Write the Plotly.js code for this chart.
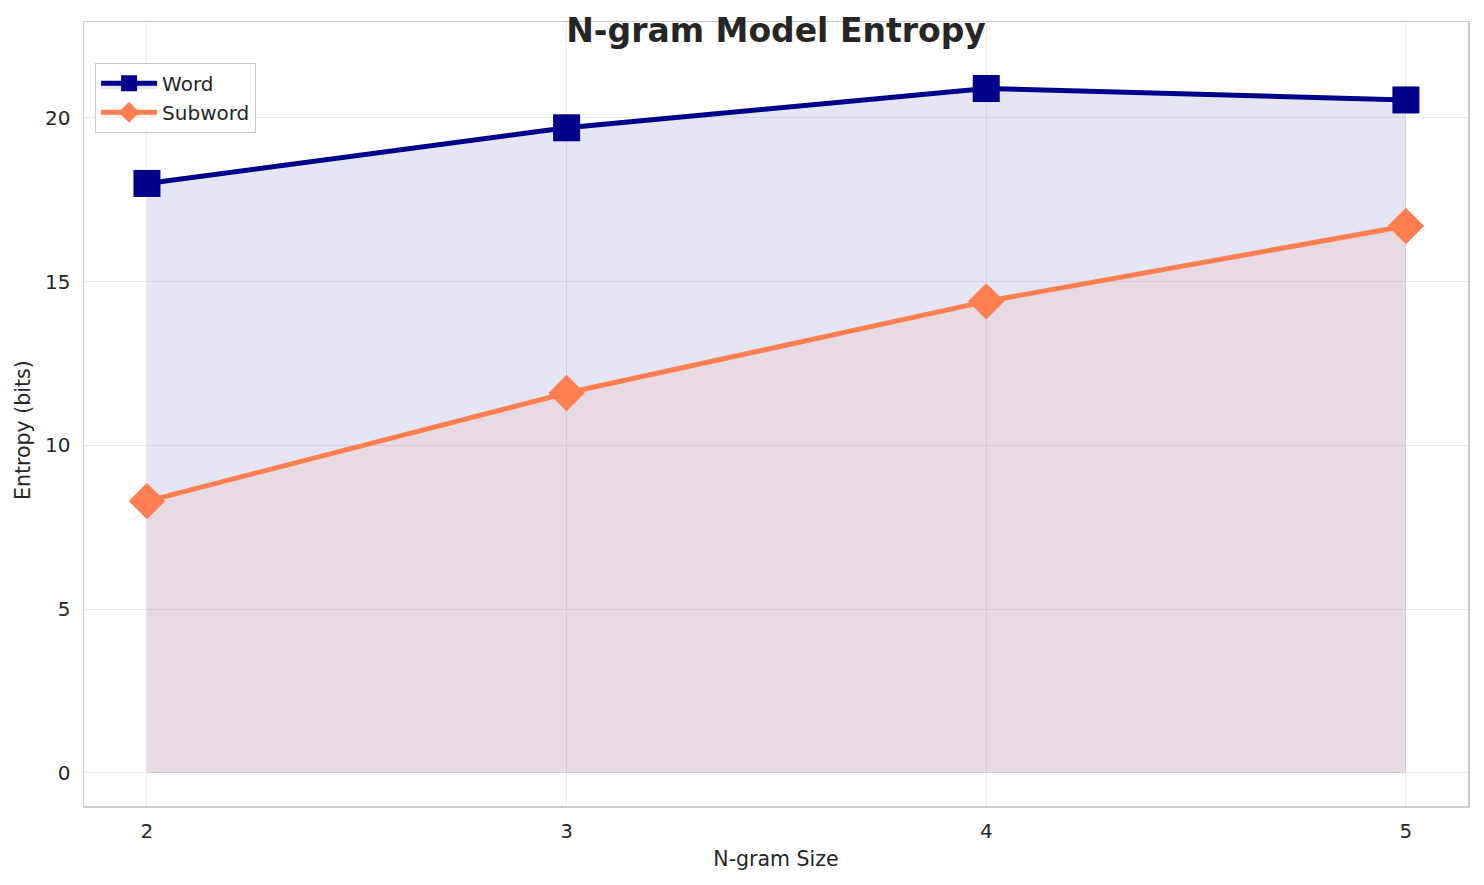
<!DOCTYPE html>
<html>
<head>
<meta charset="utf-8">
<script src="https://cdn.plot.ly/plotly-3.0.1.min.js"></script>
<style>html,body{margin:0;padding:0;background:#fff;}#chart{width:1484px;height:885px;}</style>
</head>
<body>
<div id="chart"></div>
<script>
const ngramSizes = [2, 3, 4, 5];
const wordEntropy = [18.0, 19.7, 20.9, 20.55];
const subwordEntropy = [8.3, 11.6, 14.4, 16.7];
const seriesNames = ['Word', 'Subword'];
const tickVals = [2, 3, 4, 5];

const font = 'DejaVu Sans, Liberation Sans, sans-serif';

const traces = [
  {
    x: ngramSizes, y: wordEntropy, name: seriesNames[0],
    type: 'scatter', mode: 'lines+markers',
    line: {color: '#00008b', width: 5},
    marker: {symbol: 'square', size: 27, color: '#00008b'},
    fill: 'tozeroy', fillcolor: 'rgba(0,0,139,0.1)'
  },
  {
    x: ngramSizes, y: subwordEntropy, name: seriesNames[1],
    type: 'scatter', mode: 'lines+markers',
    line: {color: '#ff7f50', width: 5},
    marker: {symbol: 'diamond', size: 28, color: '#ff7f50'},
    fill: 'tozeroy', fillcolor: 'rgba(255,127,80,0.1)'
  }
];

const layout = {
  width: 1484, height: 885,
  paper_bgcolor: '#fff', plot_bgcolor: '#fff',
  font: {family: font, color: '#262626', size: 20},
  margin: {l: 84, r: 16, t: 22, b: 79},
  title: {text: '<b>N-gram Model Entropy</b>', font: {size: 33, family: font, color: '#262626'}, x: 0.5, xanchor: 'center', xref: 'paper', y: 0.966, yanchor: 'middle'},
  xaxis: {
    range: [1.85, 5.148], tickvals: tickVals, ticktext: tickVals.map(String),
    showgrid: true, gridcolor: '#ebebeb', gridwidth: 1,
    zeroline: false, showline: true, linecolor: '#cccccc', linewidth: 1.5, mirror: true,
    ticks: 'outside', ticklen: 6, tickcolor: 'rgba(0,0,0,0)', tickfont: {size: 20},
    title: {text: 'N-gram Size', font: {size: 20.5}, standoff: 10}
  },
  yaxis: {
    range: [-1.01, 22.93], tickvals: [0, 5, 10, 15, 20],
    showgrid: true, gridcolor: '#ebebeb', gridwidth: 1,
    zeroline: false, showline: true, linecolor: '#cccccc', linewidth: 1.5, mirror: true,
    ticks: 'outside', ticklen: 8, tickcolor: 'rgba(0,0,0,0)', tickfont: {size: 20}
  },
  annotations: [{
    text: 'Entropy (bits)', textangle: -90, showarrow: false,
    xref: 'paper', yref: 'paper', x: -0.0441, y: 0.4796,
    xanchor: 'center', yanchor: 'middle', font: {size: 20.5, color: '#262626'}
  }],
  showlegend: true,
  legend: {
    x: 0.008, y: 0.948, xanchor: 'left', yanchor: 'top',
    bgcolor: 'rgba(255,255,255,0.8)', bordercolor: '#cccccc', borderwidth: 1,
    font: {size: 20}, itemsizing: 'trace', itemwidth: 56, tracegroupgap: 0
  }
};

Plotly.newPlot('chart', traces, layout, {displayModeBar: false, staticPlot: true});
</script>
</body>
</html>
